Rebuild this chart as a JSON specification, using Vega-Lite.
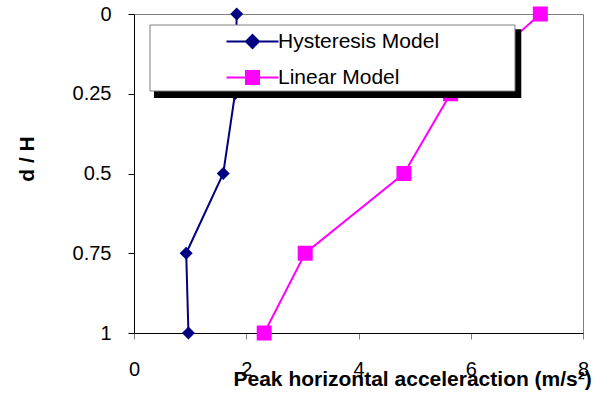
{
  "$schema": "https://vega.github.io/schema/vega-lite/v6.json",
  "width": 449,
  "height": 319,
  "autosize": {"type": "none"},
  "padding": {"left": 134, "top": 14, "right": 26, "bottom": 63},
  "background": "white",
  "config": {
    "font": "Liberation Sans",
    "view": {"stroke": "#808080", "strokeWidth": 1},
    "axis": {
      "grid": false,
      "domainColor": "black",
      "domainWidth": 1,
      "tickColor": "black",
      "tickSize": 6,
      "labelFlush": false,
      "labelFont": "Liberation Sans",
      "labelFontSize": 20,
      "labelColor": "black",
      "titleFont": "Liberation Sans",
      "titleFontSize": 21,
      "titleFontWeight": "bold",
      "titleColor": "black"
    }
  },
  "datasets": {
    "profiles": [
      {"model": "Hysteresis Model", "dH": 0, "accel": 1.83},
      {"model": "Hysteresis Model", "dH": 0.25, "accel": 1.8},
      {"model": "Hysteresis Model", "dH": 0.5, "accel": 1.59},
      {"model": "Hysteresis Model", "dH": 0.75, "accel": 0.93},
      {"model": "Hysteresis Model", "dH": 1, "accel": 0.97},
      {"model": "Linear Model", "dH": 0, "accel": 7.24},
      {"model": "Linear Model", "dH": 0.25, "accel": 5.64},
      {"model": "Linear Model", "dH": 0.5, "accel": 4.81},
      {"model": "Linear Model", "dH": 0.75, "accel": 3.05},
      {"model": "Linear Model", "dH": 1, "accel": 2.32}
    ]
  },
  "layer": [
    {
      "data": {"name": "profiles"},
      "mark": {"type": "line", "strokeWidth": 2},
      "encoding": {
        "x": {
          "field": "accel",
          "type": "quantitative",
          "scale": {"domain": [0, 8], "nice": false},
          "axis": {
            "values": [0, 2, 4, 6, 8],
            "labelExpr": "datum.value",
            "tickColor": "#808080",
            "labelPadding": 20,
            "title": "Peak horizontal acceleraction (m/s²)",
            "titleAnchor": "start",
            "titleAlign": "left",
            "titleBaseline": "alphabetic",
            "titleX": 99,
            "titleY": 52
          }
        },
        "y": {
          "field": "dH",
          "type": "quantitative",
          "scale": {"domain": [0, 1], "reverse": true, "nice": false},
          "axis": {
            "values": [0, 0.25, 0.5, 0.75, 1],
            "labelExpr": "datum.value",
            "labelPadding": 17,
            "title": "d / H",
            "titleAngle": -90,
            "titleAlign": "center",
            "titleBaseline": "alphabetic",
            "titleX": -101,
            "titleY": 144.5
          }
        },
        "color": {
          "field": "model",
          "type": "nominal",
          "scale": {"domain": ["Hysteresis Model", "Linear Model"], "range": ["#000080", "#FF00FF"]},
          "legend": {
            "orient": "none",
            "legendX": 82,
            "legendY": 17,
            "title": null,
            "padding": 0,
            "labelFont": "Liberation Sans",
            "labelFontSize": 21,
            "labelColor": "black",
            "labelLimit": 0,
            "symbolSize": 169,
            "symbolOffset": 26,
            "labelOffset": 15,
            "rowPadding": 14,
            "symbolStrokeWidth": 2,
            "encoding": {
              "symbols": {
                "shape": {"value": {"expr": "datum.value === 'Hysteresis Model' ? 'M-4,0H4M0,-1L1,0L0,1L-1,0Z' : 'M-4,0H4M-1,-1H1V1H-1Z'"}},
                "fill": {"value": {"expr": "datum.value === 'Hysteresis Model' ? '#000080' : '#FF00FF'"}},
                "stroke": {"value": {"expr": "datum.value === 'Hysteresis Model' ? '#000080' : '#FF00FF'"}},
                "size": {"value": 169},
                "strokeWidth": {"value": 2},
                "opacity": {"value": 1},
                "fillOpacity": {"value": 1}
              }
            }
          }
        },
        "order": {"field": "dH", "type": "quantitative"}
      }
    },
    {
      "data": {"name": "profiles"},
      "transform": [{"filter": "datum.model === 'Hysteresis Model'"}],
      "mark": {"type": "point", "shape": "diamond", "size": 169, "filled": true, "opacity": 1},
      "encoding": {
        "x": {"field": "accel", "type": "quantitative"},
        "y": {"field": "dH", "type": "quantitative"},
        "color": {"field": "model", "type": "nominal"}
      }
    },
    {
      "data": {"name": "profiles"},
      "transform": [{"filter": "datum.model === 'Linear Model'"}],
      "mark": {"type": "point", "shape": "square", "size": 225, "filled": true, "opacity": 1},
      "encoding": {
        "x": {"field": "accel", "type": "quantitative"},
        "y": {"field": "dH", "type": "quantitative"},
        "color": {"field": "model", "type": "nominal"}
      }
    },
    {
      "data": {"values": [{}]},
      "mark": {"type": "rect", "color": "black"},
      "encoding": {
        "x": {"datum": 0.356, "type": "quantitative"},
        "x2": {"datum": 6.9},
        "y": {"datum": 0.048, "type": "quantitative"},
        "y2": {"datum": 0.263}
      }
    },
    {
      "data": {"values": [{}]},
      "mark": {"type": "rect", "fill": "white", "stroke": "#808080", "strokeWidth": 1},
      "encoding": {
        "x": {"datum": 0.285, "type": "quantitative"},
        "x2": {"datum": 6.788},
        "y": {"datum": 0.0345, "type": "quantitative"},
        "y2": {"datum": 0.2414}
      }
    }
  ]
}
